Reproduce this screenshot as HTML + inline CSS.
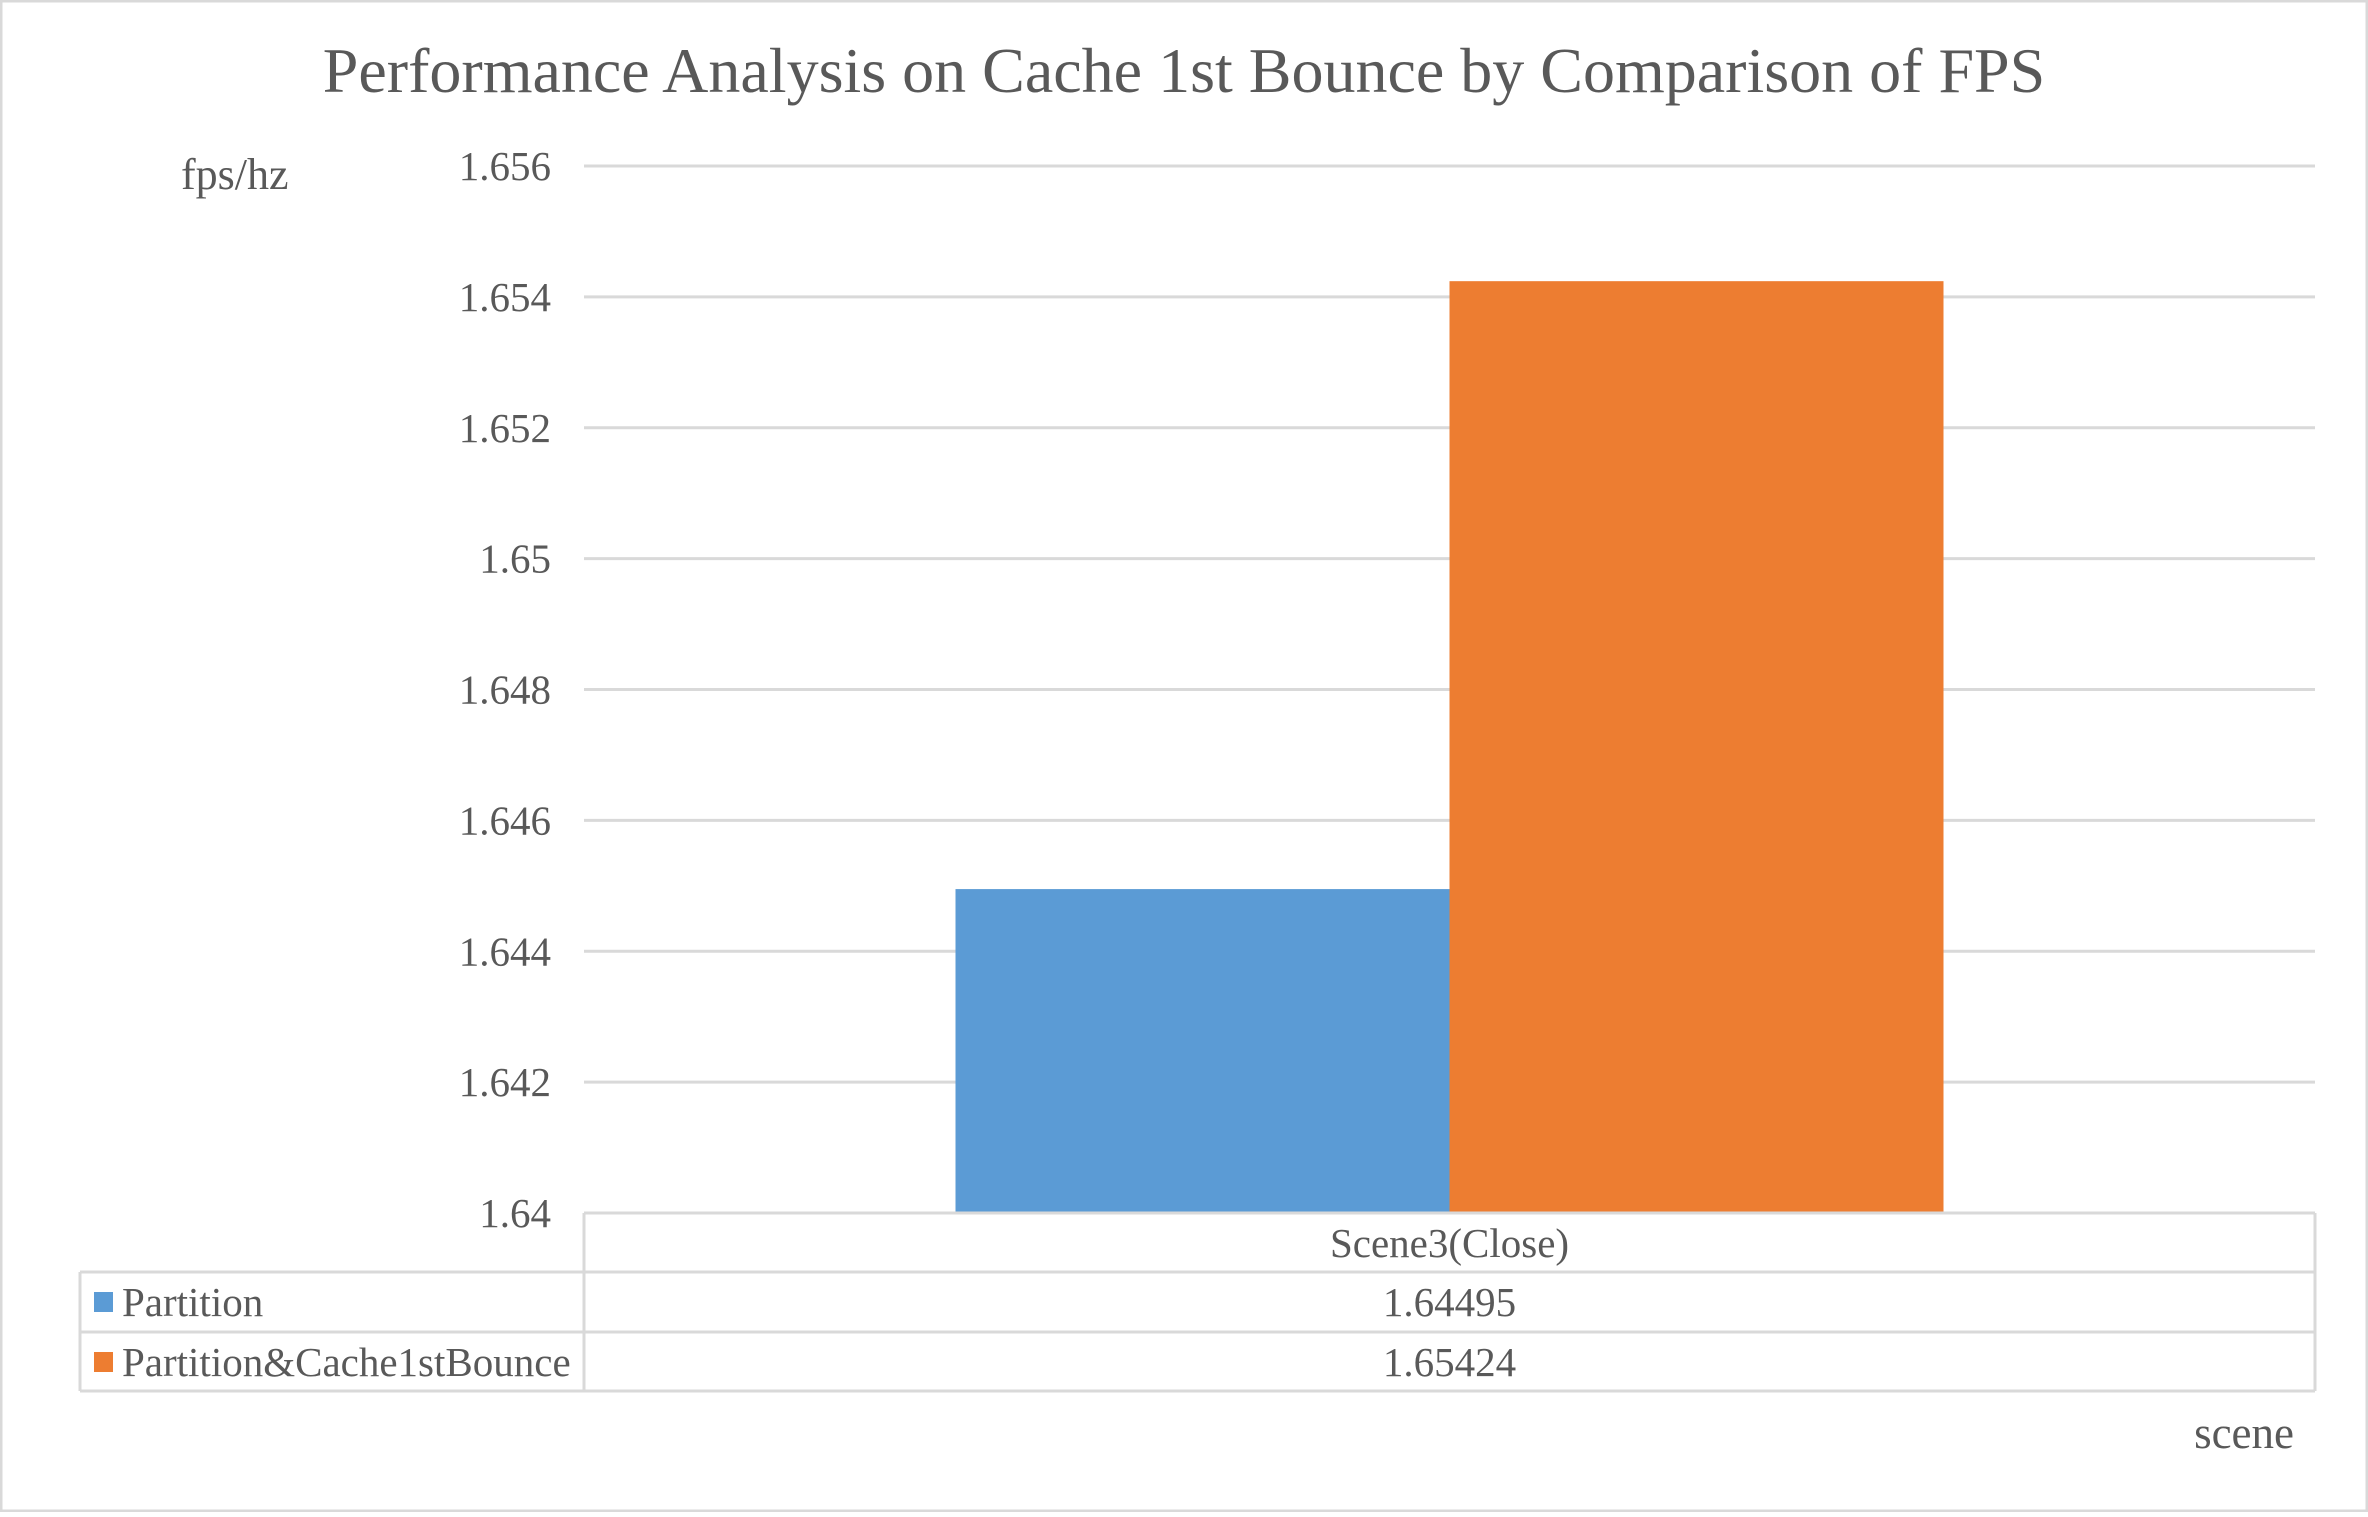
<!DOCTYPE html>
<html><head><meta charset="utf-8"><style>
html,body{margin:0;padding:0;background:#fff}
svg text{font-family:"Liberation Serif",serif;fill:#595959}
</style></head><body>
<svg width="2368" height="1512" viewBox="0 0 2368 1512" xmlns="http://www.w3.org/2000/svg">
<rect x="1" y="1" width="2366" height="1510" fill="#fff" stroke="#d9d9d9" stroke-width="3"/>
<text x="1184" y="92" font-size="64" text-anchor="middle">Performance Analysis on Cache 1st Bounce by Comparison of FPS</text>
<text x="181" y="189" font-size="44">fps/hz</text>
<text x="2294" y="1448" font-size="45" text-anchor="end">scene</text>
<g id="grid"></g><g id="bars"></g><g id="table"></g>
</svg>
<script>
const categories=["Scene3(Close)"];
const seriesNames=["Partition","Partition&Cache1stBounce"];
const seriesValues=[[1.64495],[1.65424]];
const valueLabels=["1.64495","1.65424"];
const ticks=[1.64,1.642,1.644,1.646,1.648,1.65,1.652,1.654,1.656];
const tickLabels=["1.64","1.642","1.644","1.646","1.648","1.65","1.652","1.654","1.656"];
const colors=["#5b9bd5","#ed7d31"];
const NS="http://www.w3.org/2000/svg";
const X0=584,X1=2315,Y0=1213,Y1=166,vmin=1.64,vmax=1.656;
const y=v=>Y0-(v-vmin)/(vmax-vmin)*(Y0-Y1);
function mk(t,a,p){const e=document.createElementNS(NS,t);for(const k in a)e.setAttribute(k,a[k]);p.appendChild(e);return e;}
const g=document.getElementById('grid'),b=document.getElementById('bars'),tb=document.getElementById('table');
ticks.forEach((t,i)=>{
 const l=mk('line',{x1:X0,x2:X1,y1:y(t),y2:y(t),stroke:'#d9d9d9','stroke-width':3},g);
 
 
 const tx=mk('text',{x:551,y:y(t)+14,'font-size':41,'text-anchor':'end'},g);
 tx.textContent=tickLabels[i];
 
 
});
const catW=(X1-X0)/categories.length, barW=494;
categories.forEach((c,ci)=>{
 const cx=X0+catW*(ci+0.5);
 seriesValues.forEach((s,si)=>{
  const x=cx-barW*seriesValues.length/2+si*barW;
  const r=mk('rect',{x:x,y:y(s[ci]),width:barW,height:Y0-y(s[ci]),fill:colors[si]},b);
  
  
 });
});
const rows=[1213,1272,1332,1391], L=80;
const st={stroke:'#d9d9d9','stroke-width':3};
[[X0,1213,X1,1213],[X0,1213,X0,1391],[X1,1213,X1,1391],[L,1272,X1,1272],[L,1332,X1,1332],[L,1391,X1,1391],[L,1272,L,1391]].forEach(a=>{
 const l=mk('line',Object.assign({x1:a[0],y1:a[1],x2:a[2],y2:a[3]},st),tb);
 
 
});
categories.forEach((c,ci)=>{
 const t=mk('text',{x:X0+catW*(ci+0.5),y:1257,'font-size':41,'text-anchor':'middle'},tb);
 t.textContent=c;
 
 
});
seriesNames.forEach((n,si)=>{
 const yy=rows[si+1];
 const sq=mk('rect',{x:94,y:yy+20,width:19,height:20,fill:colors[si]},tb);
 
 
 const t=mk('text',{x:122,y:yy+44,'font-size':41},tb);
 t.textContent=n;
 
 
 const v=mk('text',{x:X0+catW*0.5,y:yy+44,'font-size':41,'text-anchor':'middle'},tb);
 v.textContent=valueLabels[si];
 
 
});
</script>
</body></html>
